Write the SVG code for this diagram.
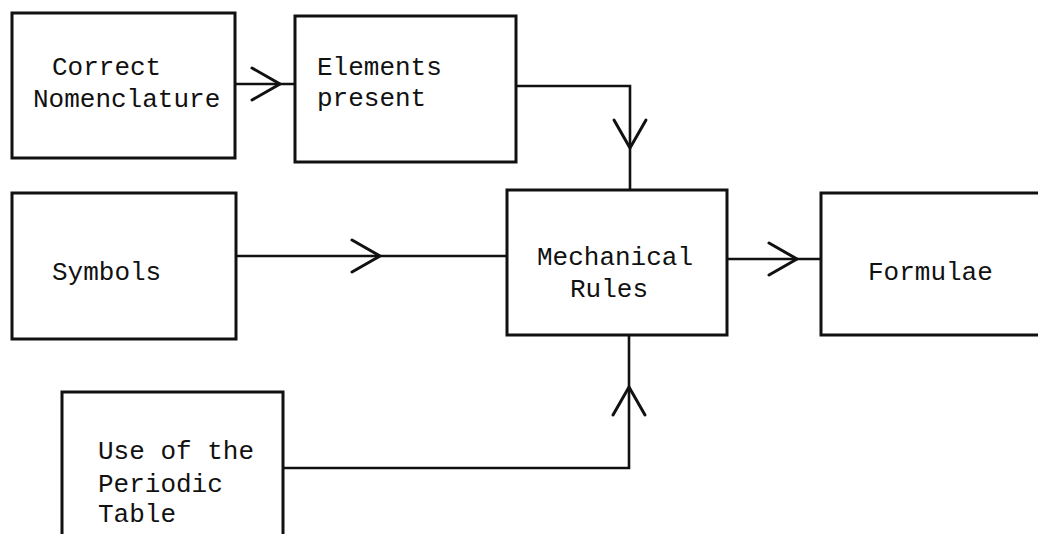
<svg xmlns="http://www.w3.org/2000/svg" width="1038" height="534" viewBox="0 0 1038 534">
  <style>
    .box { fill: #ffffff; stroke: #111111; stroke-width: 3; }
    .wire { fill: none; stroke: #111111; stroke-width: 2.6; stroke-linejoin: miter; }
    .chev { fill: none; stroke: #111111; stroke-width: 3; stroke-linecap: round; stroke-linejoin: miter; }
    .lbl { font-family: "Liberation Mono", "DejaVu Sans Mono", monospace; font-size: 26px; fill: #111111; }
  </style>
  <defs>
    <!-- open V arrowhead, tip at origin, pointing along +x -->
    <path id="chev" class="chev" d="M-28,-16 L0,0 L-28,16"/>
  </defs>

  <rect width="1038" height="534" fill="#ffffff"/>

  <g id="connectors">
    <path class="wire" d="M235,84 L295,84"/>
    <use href="#chev" transform="translate(280,84)"/>

    <path class="wire" d="M516,86 L630,86 L630,190"/>
    <use href="#chev" transform="translate(630,148) rotate(90)"/>

    <path class="wire" d="M236,256 L507,256"/>
    <use href="#chev" transform="translate(380,256)"/>

    <path class="wire" d="M727,259 L821,259"/>
    <use href="#chev" transform="translate(797,259)"/>

    <path class="wire" d="M283,468 L629,468 L629,335"/>
    <use href="#chev" transform="translate(629,387) rotate(-90)"/>
  </g>

  <g id="node-nomenclature">
    <rect class="box" x="12" y="13" width="223" height="145"/>
    <text class="lbl" x="52" y="75">Correct</text>
    <text class="lbl" x="33" y="107">Nomenclature</text>
  </g>

  <g id="node-elements">
    <rect class="box" x="295" y="16" width="221" height="146"/>
    <text class="lbl" x="317" y="75">Elements</text>
    <text class="lbl" x="317" y="106">present</text>
  </g>

  <g id="node-symbols">
    <rect class="box" x="12" y="193" width="224" height="146"/>
    <text class="lbl" x="52" y="280">Symbols</text>
  </g>

  <g id="node-rules">
    <rect class="box" x="507" y="190" width="220" height="145"/>
    <text class="lbl" x="537" y="265">Mechanical</text>
    <text class="lbl" x="570" y="297">Rules</text>
  </g>

  <g id="node-formulae">
    <rect class="box" x="821" y="193" width="240" height="142"/>
    <text class="lbl" x="868" y="280">Formulae</text>
  </g>

  <g id="node-periodic">
    <rect class="box" x="62" y="392" width="221" height="160"/>
    <text class="lbl" x="98" y="459">Use of the</text>
    <text class="lbl" x="98" y="492">Periodic</text>
    <text class="lbl" x="98" y="522">Table</text>
  </g>
</svg>
